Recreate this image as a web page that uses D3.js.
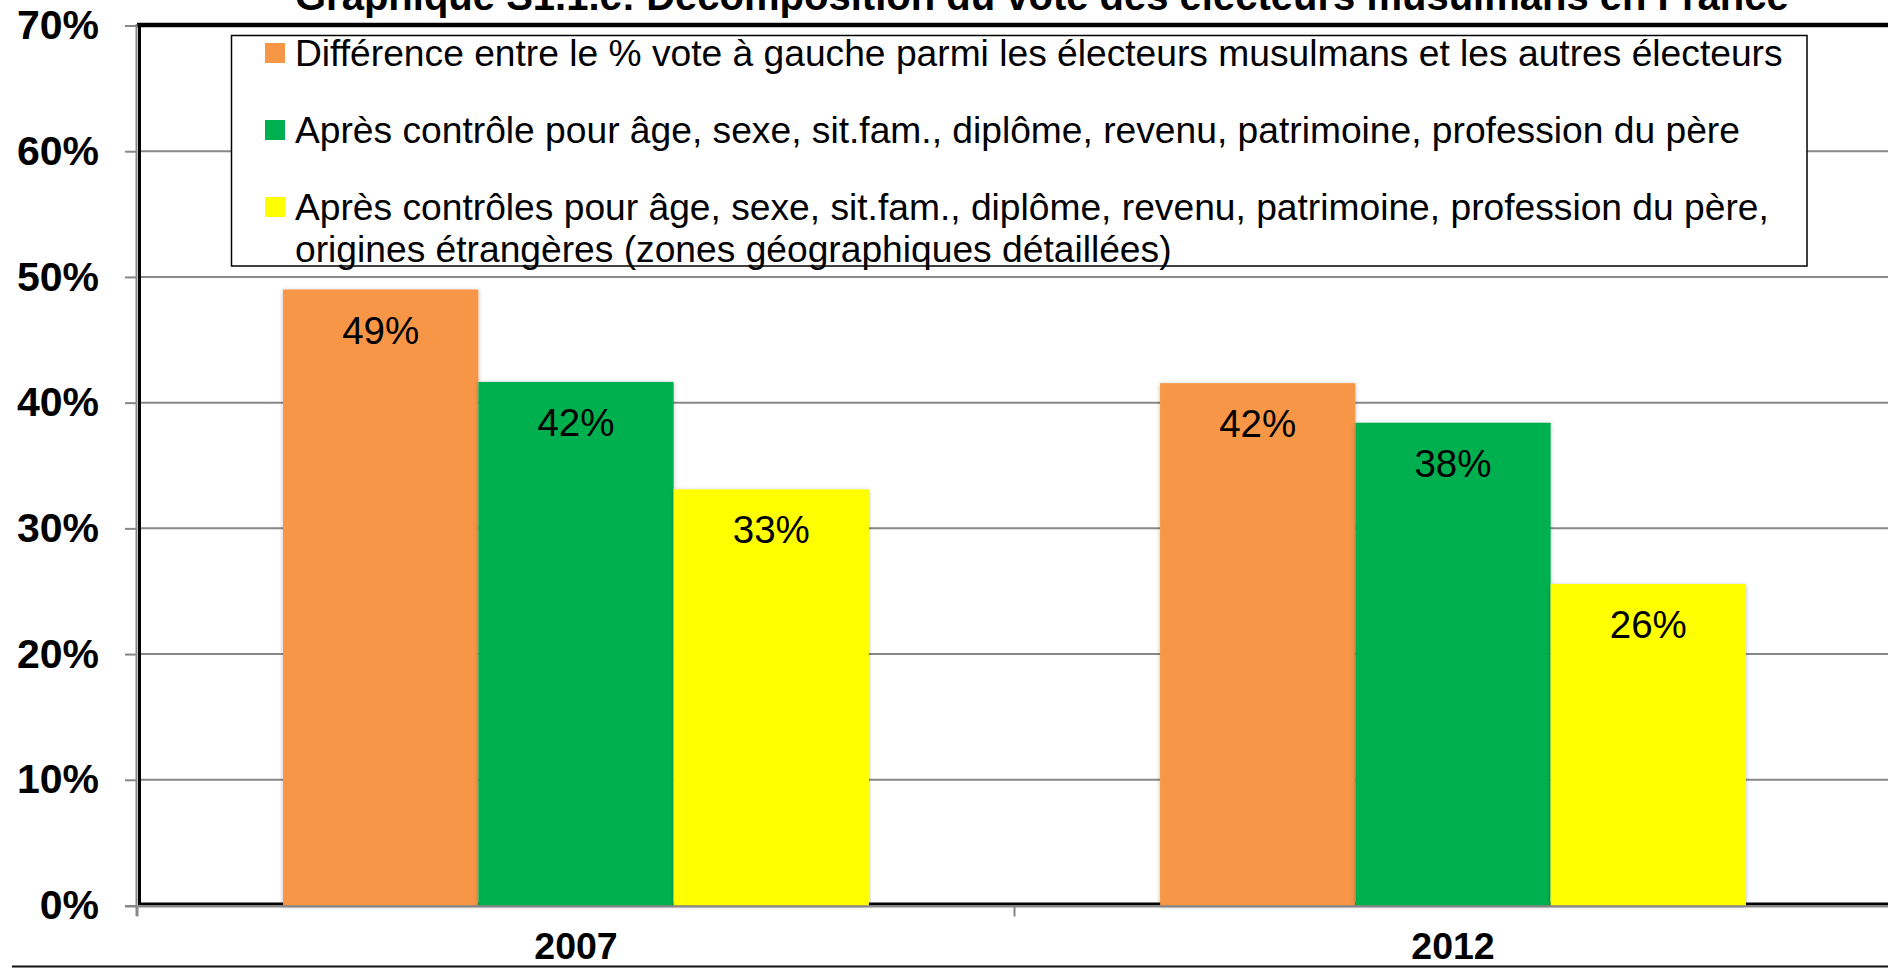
<!DOCTYPE html>
<html>
<head>
<meta charset="utf-8">
<script src="https://cdn.jsdelivr.net/npm/d3@7"></script>
<style>
  html, body { margin: 0; padding: 0; background: #fff; }
  svg { display: block; font-family: "Liberation Sans", Arial, sans-serif; }
</style>
</head>
<body>
<svg id="chart" width="1888" height="968"></svg>
<script>
// ---- data ----
const title = "Graphique S1.1.c: Décomposition du vote des électeurs musulmans en France";
const categories = ["2007", "2012"];
const seriesKeys = ["diff", "ctrl", "ctrlOrig"];
const legendLines = [
  ["Différence entre le % vote à gauche parmi les électeurs musulmans et les autres électeurs"],
  ["Après contrôle pour âge, sexe, sit.fam., diplôme, revenu, patrimoine, profession du père"],
  ["Après contrôles pour âge, sexe, sit.fam., diplôme, revenu, patrimoine, profession du père,",
   "origines étrangères (zones géographiques détaillées)"]
];
const valuesDiff = [0.49, 0.4155];
const valuesCtrl = [0.4165, 0.384];
const valuesCtrlOrig = [0.331, 0.2557];
const yTicks = [0, 0.1, 0.2, 0.3, 0.4, 0.5, 0.6, 0.7];
const colors = ["#F79646", "#00B050", "#FFFF00"];

const seriesValues = [valuesDiff, valuesCtrl, valuesCtrlOrig];
const rows = categories.map((c, i) => ({
  cat: c,
  vals: seriesKeys.map((k, s) => ({ key: k, s, v: seriesValues[s][i] }))
}));

// ---- layout ----
const svg = d3.select("#chart");
const fmt = d3.format(".0%");
const plot = { left: 137.5, right: 1891.5, top: 25.5, bottom: 905.5 };

const y = d3.scaleLinear().domain([0, 0.7]).range([plot.bottom, plot.top]);
const x0 = d3.scaleBand().domain(categories).range([plot.left, plot.right])
  .paddingInner(0.332).paddingOuter(0.166);
const x1 = d3.scaleBand().domain(seriesKeys).range([0, x0.bandwidth()]).padding(0);

const defs = svg.append("defs");
const f = defs.append("filter").attr("id", "shadow")
  .attr("x", "-10%").attr("y", "-10%").attr("width", "120%").attr("height", "120%");
f.append("feDropShadow").attr("dx", 0).attr("dy", 1).attr("stdDeviation", 2.2)
  .attr("flood-color", "#000").attr("flood-opacity", 0.28);

// title (partially cut off at top, as in the reference)
svg.append("text").attr("x", 295).attr("y", 10)
  .attr("font-size", 40).attr("font-weight", "bold").attr("fill", "#000")
  .text(title);

// gridlines
svg.append("g").selectAll("line").data(yTicks.filter(t => t > 0 && t < 0.7)).join("line")
  .attr("x1", 139).attr("x2", 1888)
  .attr("y1", d => y(d)).attr("y2", d => y(d))
  .attr("stroke", "#878787").attr("stroke-width", 2);

// plot frame
svg.append("rect").attr("x", 139.5).attr("y", 25).attr("width", 1760).attr("height", 879)
  .attr("fill", "none").attr("stroke", "#000").attr("stroke-width", 3);
svg.append("line").attr("x1", 137).attr("x2", 1888).attr("y1", 25).attr("y2", 25)
  .attr("stroke", "#000").attr("stroke-width", 4.5);

// bars
const groups = svg.append("g").selectAll("g").data(rows).join("g")
  .attr("transform", d => `translate(${x0(d.cat)},0)`);
groups.selectAll("rect").data(d => d.vals).join("rect")
  .attr("x", d => x1(d.key)).attr("width", x1.bandwidth())
  .attr("y", d => y(d.v)).attr("height", d => y(0) - y(d.v))
  .attr("fill", d => colors[d.s])
  .attr("filter", "url(#shadow)");
groups.selectAll("text").data(d => d.vals).join("text")
  .attr("x", d => x1(d.key) + x1.bandwidth() / 2)
  .attr("y", d => y(d.v) + 54)
  .attr("text-anchor", "middle").attr("font-size", 38.5).attr("fill", "#000")
  .text(d => fmt(d.v));

// y axis
const yAxis = svg.append("g").attr("transform", `translate(137,0)`)
  .call(d3.axisLeft(y).tickValues(yTicks).tickFormat(fmt).tickSize(12).tickSizeOuter(0).tickPadding(26));
yAxis.select(".domain").remove();
yAxis.selectAll(".tick line").attr("stroke", "#878787").attr("stroke-width", 2);
yAxis.selectAll(".tick text").attr("font-size", 41).attr("font-weight", "bold")
  .attr("fill", "#000").attr("font-family", "'Liberation Sans', Arial, sans-serif");
svg.append("line").attr("x1", 136.5).attr("x2", 136.5).attr("y1", 24).attr("y2", 916)
  .attr("stroke", "#878787").attr("stroke-width", 2);

// x axis
const xAxis = svg.append("g").attr("transform", `translate(0,${plot.bottom + 1})`)
  .call(d3.axisBottom(x0).tickSize(0).tickPadding(26));
xAxis.select(".domain").remove();
xAxis.selectAll(".tick text").attr("font-size", 37.5).attr("font-weight", "bold")
  .attr("fill", "#000").attr("font-family", "'Liberation Sans', Arial, sans-serif");
svg.append("line").attr("x1", 125).attr("x2", 1888).attr("y1", plot.bottom + 1).attr("y2", plot.bottom + 1)
  .attr("stroke", "#878787").attr("stroke-width", 2);
const boundaries = d3.range(categories.length + 1).map(i => plot.left + i * x0.step());
svg.append("g").selectAll("line").data(boundaries).join("line")
  .attr("x1", d => d).attr("x2", d => d)
  .attr("y1", plot.bottom + 1).attr("y2", plot.bottom + 11)
  .attr("stroke", "#878787").attr("stroke-width", 2);

// outer chart border (bottom)
svg.append("line").attr("x1", 12).attr("x2", 1888).attr("y1", 966.5).attr("y2", 966.5)
  .attr("stroke", "#111").attr("stroke-width", 2);

// legend
const lg = svg.append("g");
lg.append("rect").attr("x", 231.5).attr("y", 35.5).attr("width", 1575.5).attr("height", 230.5)
  .attr("fill", "#fff").attr("stroke", "#000").attr("stroke-width", 1.5);
const rowCenters = [53, 130, 207];
const items = lg.selectAll("g").data(legendLines).join("g")
  .attr("transform", (d, i) => `translate(0,${rowCenters[i]})`);
items.append("rect").attr("x", 265).attr("y", -10).attr("width", 20).attr("height", 20)
  .attr("fill", (d, i) => colors[i]);
items.append("text").attr("font-size", 37.2).attr("fill", "#000")
  .selectAll("tspan").data(d => d).join("tspan")
  .attr("x", 295).attr("y", (d, j) => 13 + j * 41.5)
  .text(d => d);
</script>
</body>
</html>
